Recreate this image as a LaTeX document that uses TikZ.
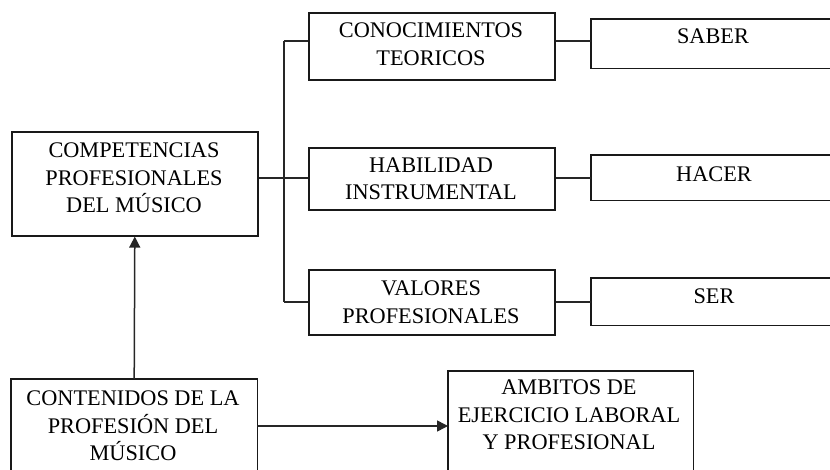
\documentclass[tikz,border=0pt]{standalone}
\usepackage{fontspec}
\setmainfont{Liberation Serif}
\usetikzlibrary{arrows.meta}
\begin{document}
\begin{tikzpicture}[x=1pt,y=-1pt,
  box/.style={draw=black!90, line width=1.6pt, rectangle, inner sep=0pt, anchor=north west},
  openbox/.style={rectangle, inner sep=0pt, anchor=north west},
  edge/.style={draw=black!90, line width=1.6pt},
  lbl/.style={font=\fontsize{22.3}{27.5}\selectfont, align=center, inner sep=0pt, text=black},
  conn/.style={draw=black!85, line width=1.5pt},
  arr/.style={conn, -{Triangle[length=11pt,width=11pt]}}]
\useasboundingbox (0,0) rectangle (830,470);
% boxes
\node[box, minimum width=246pt, minimum height=104pt] (comp) at (11,131) {};
\node[box, minimum width=246pt, minimum height=67pt] (cono) at (308,12) {};
\node[box, minimum width=246pt, minimum height=62pt] (habi) at (308,147) {};
\node[box, minimum width=246pt, minimum height=65pt] (valo) at (308,269) {};
\node[openbox, minimum width=245pt, minimum height=49pt] (saber) at (591,19) {};
\node[openbox, minimum width=245pt, minimum height=45pt] (hacer) at (591,155) {};
\node[openbox, minimum width=245pt, minimum height=47pt] (ser) at (591,278) {};
\node[openbox, minimum width=246pt, minimum height=97pt] (cont) at (11,379) {};
\node[openbox, minimum width=245pt, minimum height=105pt] (ambi) at (448,371) {};
\draw[edge] (saber.north east) -- (saber.north west) -- (saber.south west) -- (saber.south east);
\draw[edge] (hacer.north east) -- (hacer.north west) -- (hacer.south west) -- (hacer.south east);
\draw[edge] (ser.north east) -- (ser.north west) -- (ser.south west) -- (ser.south east);
\draw[edge] (cont.south west) -- (cont.north west) -- (cont.north east) -- (cont.south east);
\draw[edge] (ambi.south west) -- (ambi.north west) -- (ambi.north east) -- (ambi.south east);
% labels
\node[lbl] (tcomp) at (134,178) {COMPETENCIAS\\PROFESIONALES\\DEL MÚSICO};
\node[lbl] (tcono) at (431,44) {CONOCIMIENTOS\\TEORICOS};
\node[lbl] (thabi) at (431,179) {HABILIDAD\\INSTRUMENTAL};
\node[lbl] (tvalo) at (431,302) {VALORES\\PROFESIONALES};
\node[lbl] (tsaber) at (713,36) {SABER};
\node[lbl] (thacer) at (714,174) {HACER};
\node[lbl] (tser) at (714,296) {SER};
\node[lbl] (tcont) at (133,426) {CONTENIDOS DE LA\\PROFESIÓN DEL\\MÚSICO};
\node[lbl] (tambi) at (569,415) {AMBITOS DE\\EJERCICIO LABORAL\\Y PROFESIONAL};
% connector coordinates
\coordinate (j) at (284,178);
\coordinate (t1) at (284,41);
\coordinate (t3) at (284,302);
\coordinate (h) at (0,426);
% tree connectors
\draw[conn] (comp.east |- j) -- (j);
\draw[conn] (t1) -- (t3);
\draw[conn] (t1) -- (t1 -| cono.west);
\draw[conn] (j) -- (j -| habi.west);
\draw[conn] (t3) -- (t3 -| valo.west);
\draw[conn] (cono.east |- t1) -- (t1 -| saber.west);
\draw[conn] (habi.east |- j) -- (j -| hacer.west);
\draw[conn] (valo.east |- t3) -- (t3 -| ser.west);
% arrows
\draw[arr] (cont.north) -- (comp.south);
\draw[arr] (cont.east |- h) -- (ambi.west |- h);
\end{tikzpicture}
\end{document}
